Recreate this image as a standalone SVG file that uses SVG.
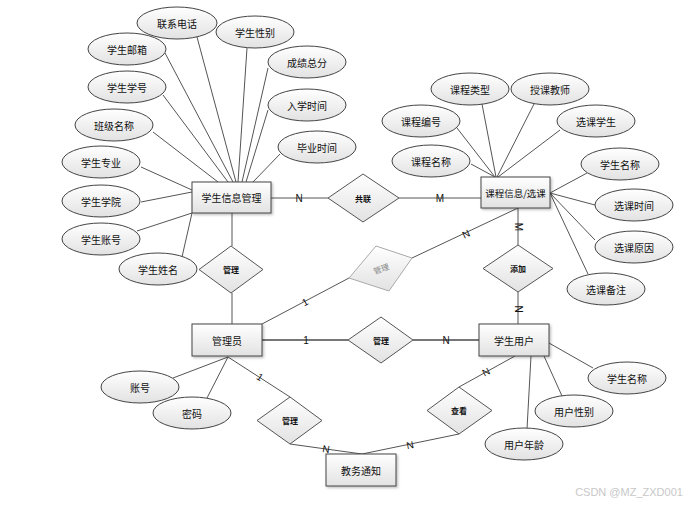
<svg xmlns="http://www.w3.org/2000/svg" width="697" height="505" viewBox="0 0 697 505">
<defs>
<linearGradient id="g" x1="0" y1="0" x2="0" y2="1">
<stop offset="0" stop-color="#ffffff"/>
<stop offset="1" stop-color="#e2e2e2"/>
</linearGradient>
<filter id="sh" x="-10%" y="-10%" width="130%" height="140%">
<feDropShadow dx="1.5" dy="1.5" stdDeviation="1" flood-color="#000" flood-opacity="0.25"/>
</filter>
<style>
.e{fill:url(#g);stroke:#444;stroke-width:1}
.r{fill:url(#g);stroke:#444;stroke-width:1;filter:url(#sh)}
.d{fill:url(#g);stroke:#555;stroke-width:1}
.l{stroke:#555;stroke-width:1;fill:none}
.lt{stroke:#777;stroke-width:2;fill:none}
text{font-family:"Noto Sans CJK SC","Liberation Sans",sans-serif;text-anchor:middle;dominant-baseline:central;fill:#111}
.t{font-size:10px}
.dt{font-size:8px;font-weight:bold}
.c{font-family:"Liberation Sans",sans-serif;font-size:10px}
</style>
</defs>
<rect width="697" height="505" fill="#fff"/>

<g id="connectors">
<!-- 学生信息管理 attributes -->
<line class="l" x1="153" y1="132" x2="218" y2="182"/>
<line class="l" x1="163" y1="95" x2="228" y2="182"/>
<line class="l" x1="165" y1="53" x2="233" y2="182"/>
<line class="l" x1="197" y1="37" x2="236" y2="182"/>
<line class="l" x1="247" y1="48" x2="238" y2="182"/>
<line class="l" x1="268" y1="68" x2="242" y2="182"/>
<line class="l" x1="268" y1="110" x2="246" y2="182"/>
<line class="l" x1="280" y1="154" x2="253" y2="182"/>
<line class="l" x1="141" y1="167" x2="192" y2="190"/>
<line class="l" x1="141" y1="202" x2="192" y2="192"/>
<line class="l" x1="137" y1="231" x2="192" y2="213"/>
<line class="l" x1="182" y1="257" x2="192" y2="213"/>
<!-- 课程 attributes -->
<line class="l" x1="471" y1="164" x2="495" y2="177"/>
<line class="l" x1="457" y1="128" x2="495" y2="177"/>
<line class="l" x1="482" y1="104" x2="496" y2="177"/>
<line class="l" x1="534" y1="104" x2="497" y2="177"/>
<line class="l" x1="560" y1="130" x2="498" y2="177"/>
<line class="l" x1="587" y1="173" x2="550" y2="193"/>
<line class="l" x1="595" y1="205" x2="550" y2="193"/>
<line class="l" x1="595" y1="240" x2="550" y2="193"/>
<line class="l" x1="588" y1="274" x2="550" y2="193"/>
<!-- 学生用户 attributes -->
<line class="l" x1="549" y1="343" x2="593" y2="368"/>
<line class="l" x1="544" y1="356" x2="562" y2="396"/>
<line class="l" x1="531" y1="356" x2="527" y2="429"/>
<!-- 管理员 attributes -->
<line class="l" x1="228" y1="357" x2="173" y2="378"/>
<line class="l" x1="228" y1="357" x2="207" y2="398"/>
<!-- relationships -->
<line class="l" x1="271" y1="198" x2="328" y2="198"/>
<line class="l" x1="399" y1="198" x2="481" y2="198"/>
<line class="l" x1="232" y1="213" x2="232" y2="246"/>
<line class="l" x1="232" y1="293" x2="232" y2="324"/>
<line class="l" x1="262" y1="324" x2="349" y2="278"/>
<line class="l" x1="412" y1="258" x2="518" y2="208"/>
<line class="l" x1="518" y1="208" x2="518" y2="245"/>
<line class="l" x1="518" y1="292" x2="518" y2="324"/>
<line class="lt" x1="262" y1="340" x2="348" y2="340"/>
<line class="lt" x1="413" y1="340" x2="479" y2="340"/>
<line class="l" x1="228" y1="357" x2="290" y2="397"/>
<line class="l" x1="290" y1="444" x2="362" y2="454"/>
<line class="l" x1="362" y1="454" x2="459" y2="434"/>
<line class="l" x1="459" y1="387" x2="515" y2="356"/>
<!-- cardinality labels -->
<text class="c" x="299" y="198">N</text>
<text class="c" x="440" y="198">M</text>
<text class="c" x="305" y="302" transform="rotate(-28 305 302)">1</text>
<text class="c" x="466" y="234" transform="rotate(-25 466 234)">N</text>
<text class="c" x="518" y="227" transform="rotate(90 518 227)">M</text>
<text class="c" x="518" y="309" transform="rotate(90 518 309)">N</text>
<text class="c" x="306" y="340">1</text>
<text class="c" x="446" y="340">N</text>
<text class="c" x="260" y="377" transform="rotate(33 260 377)">1</text>
<text class="c" x="326" y="449" transform="rotate(8 326 449)">N</text>
<text class="c" x="410" y="445" transform="rotate(-12 410 445)">N</text>
<text class="c" x="486" y="372" transform="rotate(-28 486 372)">N</text>
</g>

<g id="e-lxdh"><ellipse class="e" cx="177" cy="23" rx="40" ry="16"/><text class="t" x="177" y="23">联系电话</text></g>
<g id="e-xsxb"><ellipse class="e" cx="255" cy="32" rx="39" ry="16"/><text class="t" x="255" y="32">学生性别</text></g>
<g id="e-xsyx"><ellipse class="e" cx="127" cy="49" rx="39" ry="16"/><text class="t" x="127" y="49">学生邮箱</text></g>
<g id="e-cjzf"><ellipse class="e" cx="307" cy="62" rx="39" ry="16"/><text class="t" x="307" y="62">成绩总分</text></g>
<g id="e-xsxh"><ellipse class="e" cx="127" cy="87" rx="39" ry="16"/><text class="t" x="127" y="87">学生学号</text></g>
<g id="e-rxsj"><ellipse class="e" cx="307" cy="105" rx="39" ry="16"/><text class="t" x="307" y="105">入学时间</text></g>
<g id="e-bjmc"><ellipse class="e" cx="114" cy="125" rx="39" ry="16"/><text class="t" x="114" y="125">班级名称</text></g>
<g id="e-bysj"><ellipse class="e" cx="317" cy="147" rx="39" ry="16"/><text class="t" x="317" y="147">毕业时间</text></g>
<g id="e-xszy"><ellipse class="e" cx="101" cy="162" rx="39" ry="16"/><text class="t" x="101" y="162">学生专业</text></g>
<g id="e-xsxy"><ellipse class="e" cx="101" cy="201" rx="39" ry="16"/><text class="t" x="101" y="201">学生学院</text></g>
<g id="e-xszh"><ellipse class="e" cx="101" cy="239" rx="39" ry="16"/><text class="t" x="101" y="239">学生账号</text></g>
<g id="e-xsxm"><ellipse class="e" cx="158" cy="269" rx="39" ry="16"/><text class="t" x="158" y="269">学生姓名</text></g>

<g id="e-kclx"><ellipse class="e" cx="470" cy="89" rx="39" ry="16"/><text class="t" x="470" y="89">课程类型</text></g>
<g id="e-skjs"><ellipse class="e" cx="550" cy="89" rx="39" ry="16"/><text class="t" x="550" y="89">授课教师</text></g>
<g id="e-kcbh"><ellipse class="e" cx="421" cy="121" rx="39" ry="16"/><text class="t" x="421" y="121">课程编号</text></g>
<g id="e-xkxs"><ellipse class="e" cx="596" cy="121" rx="39" ry="16"/><text class="t" x="596" y="121">选课学生</text></g>
<g id="e-kcmc"><ellipse class="e" cx="431" cy="161" rx="39" ry="16"/><text class="t" x="431" y="161">课程名称</text></g>
<g id="e-xsmc1"><ellipse class="e" cx="620" cy="164" rx="39" ry="16"/><text class="t" x="620" y="164">学生名称</text></g>
<g id="e-xksj"><ellipse class="e" cx="634" cy="205" rx="39" ry="16"/><text class="t" x="634" y="205">选课时间</text></g>
<g id="e-xkyy"><ellipse class="e" cx="634" cy="247" rx="39" ry="16"/><text class="t" x="634" y="247">选课原因</text></g>
<g id="e-xkbz"><ellipse class="e" cx="606" cy="289" rx="39" ry="16"/><text class="t" x="606" y="289">选课备注</text></g>

<g id="e-xsmc2"><ellipse class="e" cx="627" cy="378" rx="39" ry="16"/><text class="t" x="627" y="378">学生名称</text></g>
<g id="e-yhxb"><ellipse class="e" cx="574" cy="411" rx="39" ry="16"/><text class="t" x="574" y="411">用户性别</text></g>
<g id="e-yhnl"><ellipse class="e" cx="524" cy="444" rx="39" ry="16"/><text class="t" x="524" y="444">用户年龄</text></g>

<g id="e-zh"><ellipse class="e" cx="140" cy="387" rx="39" ry="16"/><text class="t" x="140" y="387">账号</text></g>
<g id="e-mm"><ellipse class="e" cx="192" cy="413" rx="39" ry="16"/><text class="t" x="192" y="413">密码</text></g>

<g id="n-xsxxgl"><rect class="r" x="192" y="182" width="79" height="31"/><text class="t" x="231.5" y="197.5">学生信息管理</text></g>
<g id="n-kcxx"><rect class="r" x="481" y="177" width="69" height="31"/><text class="t" x="515.5" y="192.5" style="font-size:9.5px">课程信息/选课</text></g>
<g id="n-gly"><rect class="r" x="192" y="324" width="70" height="32"/><text class="t" x="227" y="340">管理员</text></g>
<g id="n-xsyh"><rect class="r" x="479" y="324" width="70" height="32"/><text class="t" x="514" y="340">学生用户</text></g>
<g id="n-jwtz"><rect class="r" x="326" y="454" width="70" height="32"/><text class="t" x="361" y="470">教务通知</text></g>

<g id="r-gl"><polygon class="d" points="363,174 399,198 363,222 328,198"/><text class="dt" x="363" y="198">共联</text></g>
<g id="r-gl1"><polygon class="d" points="231,246 263,269.5 231,293 199,269.5"/><text class="dt" x="231" y="269.5">管理</text></g>
<g id="r-gl2"><polygon points="376,246 412,258 389,291 349,278" fill="url(#g)" stroke="#aaa" stroke-width="1"/><text class="dt" x="381" y="268.5" style="fill:#888;font-weight:normal" transform="rotate(-20 381 268.5)">管理</text></g>
<g id="r-tj"><polygon class="d" points="518,245 553,268.5 518,292 483,268.5"/><text class="dt" x="518" y="268.5">添加</text></g>
<g id="r-gl3"><polygon class="d" points="381,317 413,340 381,363 348,340"/><text class="dt" x="381" y="340">管理</text></g>
<g id="r-gl4"><polygon class="d" points="290,397 322,420.5 290,444 257,420.5"/><text class="dt" x="290" y="420.5">管理</text></g>
<g id="r-ck"><polygon class="d" points="459,387 492,410.5 459,434 427,410.5"/><text class="dt" x="459" y="410.5">查看</text></g>

<text x="629" y="492" style="font-family:'Liberation Sans',sans-serif;font-size:11px;fill:#c8c8c8">CSDN @MZ_ZXD001</text>
</svg>
